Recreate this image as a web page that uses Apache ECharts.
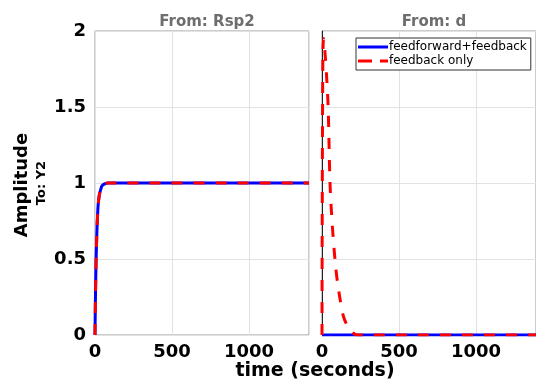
<!DOCTYPE html>
<html>
<head>
    <meta charset="UTF-8">
    <script type="text/javascript" src="https://cdn.jsdelivr.net/npm/echarts@6/dist/echarts.min.js"></script>
    <style>
        body { margin: 0; background: #fff; }
        #myDiv { width: 536px; height: 379px; }
    </style>
</head>
<body>
    <div id="myDiv"></div>
    <script type="text/javascript">
        // step response, input Rsp2 (both controllers look the same)
        var tRsp = [0, 2, 5, 8, 10, 13, 15, 20, 25, 30, 38, 45, 55, 65, 80, 100, 1390];
        var yRspFF = [0, 0.18, 0.38, 0.53, 0.6, 0.7, 0.75, 0.85, 0.9, 0.93, 0.96, 0.98, 0.99, 0.995, 1, 1, 1];
        var yRspFB = [0, 0.18, 0.38, 0.53, 0.6, 0.7, 0.75, 0.85, 0.9, 0.93, 0.96, 0.98, 0.99, 0.995, 1, 1, 1];
        // disturbance d response
        var tD = [0, 1, 3, 6, 10, 15, 20, 30, 40, 52, 65, 84, 100, 120, 140, 170, 200, 230, 1390];
        var yDFF = [0, 0, 0, 0, 0, 0, 0, 0, 0, 0, 0, 0, 0, 0, 0, 0, 0, 0, 0];
        var yDFB = [0, 0.6, 1.3, 1.85, 1.95, 1.92, 1.85, 1.7, 1.5, 1.0, 0.75, 0.5, 0.35, 0.22, 0.12, 0.05, 0.015, 0, 0];
        var legendNames = ['feedforward+feedback', 'feedback only'];

        function pairs(t, y) {
            var out = [];
            for (var i = 0; i < t.length; i++) {
                out.push([t[i], y[i]]);
            }
            return out;
        }

        var chart = echarts.init(document.getElementById('myDiv'));
        var tickFont = { fontFamily: 'DejaVu Sans', fontWeight: 'bold', fontSize: 18, color: '#000' };

        function xAxisCfg(idx) {
            return {
                type: 'value', gridIndex: idx, min: 0, max: 1390, interval: 500,
                axisLine: { show: false },
                axisTick: { show: false },
                axisLabel: Object.assign({ margin: 8, showMaxLabel: false, formatter: function (v) { return String(v); } }, tickFont),
                splitLine: { show: true, lineStyle: { color: '#e2e2e2', width: 1 } }
            };
        }
        function yAxisCfg(idx, labels) {
            return {
                type: 'value', gridIndex: idx, min: 0, max: 2, interval: 0.5,
                axisLine: { show: idx === 1, lineStyle: { color: '#222', width: 1 } },
                axisTick: { show: false },
                axisLabel: Object.assign({ show: labels, margin: 9, formatter: function (v) { return String(v); } }, tickFont),
                splitLine: { show: true, lineStyle: { color: '#e2e2e2', width: 1 } }
            };
        }

        var titleFont = { fontFamily: 'DejaVu Sans', fontWeight: 'bold', fontSize: 15, color: '#6e6e6e' };

        var option = {
            backgroundColor: '#fff',
            animation: false,
            title: [
                { text: 'From: Rsp2', left: 202, top: 10, textAlign: 'center', textStyle: titleFont },
                { text: 'From: d', left: 429, top: 10, textAlign: 'center', textStyle: titleFont }
            ],
            grid: [
                { left: 95, top: 31, width: 214, height: 304, show: true, borderColor: '#999', borderWidth: 1 },
                { left: 322, top: 31, width: 214, height: 304, show: true, borderColor: '#999', borderWidth: 1 }
            ],
            xAxis: [xAxisCfg(0), xAxisCfg(1)],
            yAxis: [yAxisCfg(0, true), yAxisCfg(1, false)],
            legend: {
                left: 356, top: 38, orient: 'vertical', itemGap: 2, itemWidth: 30, itemHeight: 3,
                padding: [3, 4, 3, 2],
                backgroundColor: '#fff', borderColor: '#333', borderWidth: 1, borderRadius: 0,
                textStyle: { fontFamily: 'DejaVu Sans', fontSize: 12, color: '#000', padding: [0, 0, 0, -4] },
                data: [
                    { name: legendNames[0], icon: 'rect', itemStyle: { color: '#0000ff' } },
                    { name: legendNames[1], icon: 'path://M0,0h14v3h-14z M22,0h8v3h-8z', itemStyle: { color: '#ff0000' } }
                ]
            },
            series: [
                { name: legendNames[0], type: 'line', xAxisIndex: 0, yAxisIndex: 0, smooth: 0.3, showSymbol: false, symbol: 'none',
                  lineStyle: { color: '#0000ff', width: 3 }, itemStyle: { color: '#0000ff' }, data: pairs(tRsp, yRspFF) },
                { name: legendNames[1], type: 'line', xAxisIndex: 0, yAxisIndex: 0, smooth: 0.3, showSymbol: false, symbol: 'none',
                  lineStyle: { color: '#ff0000', width: 3, type: [11, 11] }, itemStyle: { color: '#ff0000' }, data: pairs(tRsp, yRspFB) },
                { name: legendNames[0], type: 'line', xAxisIndex: 1, yAxisIndex: 1, showSymbol: false, symbol: 'none',
                  lineStyle: { color: '#0000ff', width: 3 }, itemStyle: { color: '#0000ff' }, data: pairs(tD, yDFF) },
                { name: legendNames[1], type: 'line', xAxisIndex: 1, yAxisIndex: 1, smooth: 0.3, showSymbol: false, symbol: 'none',
                  lineStyle: { color: '#ff0000', width: 3, type: [11, 11] }, itemStyle: { color: '#ff0000' }, data: pairs(tD, yDFB) }
            ],
            graphic: [
                { type: 'text', x: 22, y: 185, rotation: Math.PI / 2,
                  style: { text: 'Amplitude', fontFamily: 'DejaVu Sans', fontWeight: 'bold', fontSize: 18, fill: '#000', align: 'center', verticalAlign: 'middle' } },
                { type: 'text', x: 42, y: 183, rotation: Math.PI / 2,
                  style: { text: 'To: Y2', fontFamily: 'DejaVu Sans', fontWeight: 'bold', fontSize: 13, fill: '#000', align: 'center', verticalAlign: 'middle' } },
                { type: 'text', x: 315, y: 371,
                  style: { text: 'time (seconds)', fontFamily: 'DejaVu Sans', fontWeight: 'bold', fontSize: 19, fill: '#000', align: 'center', verticalAlign: 'middle' } }
            ]
        };
        chart.setOption(option);
    </script>
</body>
</html>
